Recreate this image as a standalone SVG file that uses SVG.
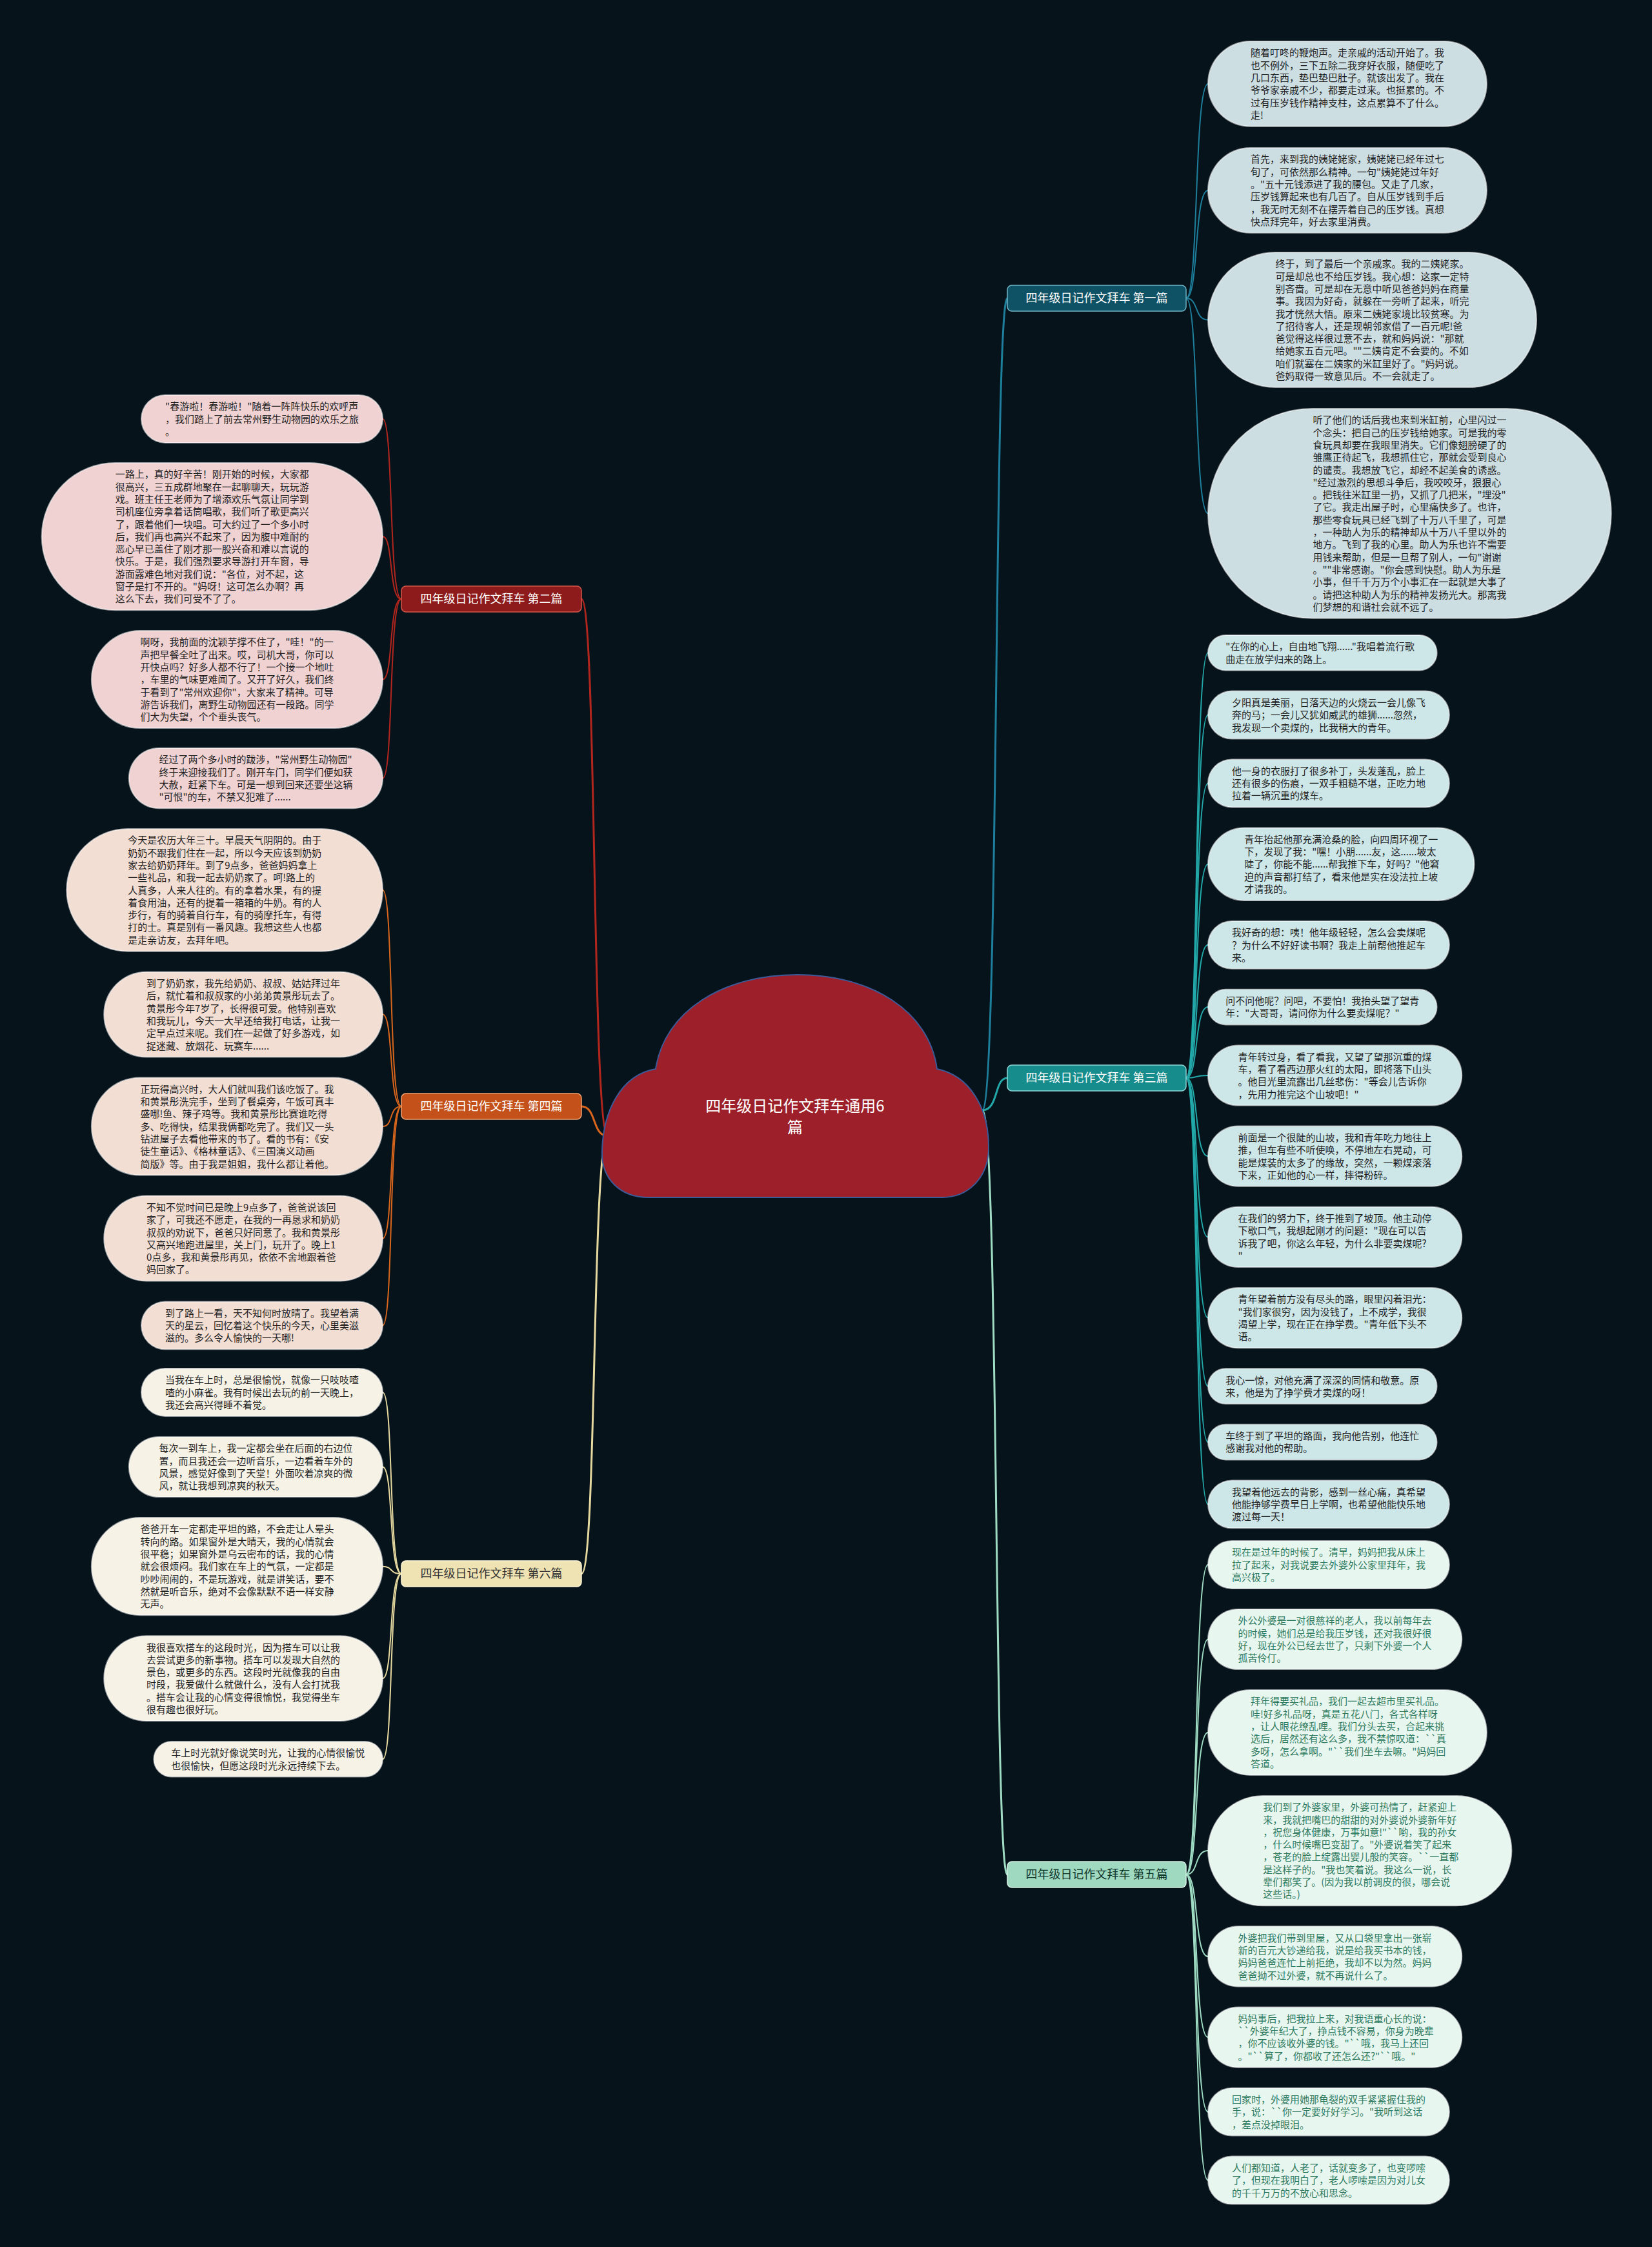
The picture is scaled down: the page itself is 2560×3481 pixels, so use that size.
<svg xmlns="http://www.w3.org/2000/svg" width="2560" height="3481" viewBox="0 0 2560 3481">
<style>
.t{font-family:"Noto Sans CJK SC","Noto Sans",sans-serif;font-size:15px;fill:#1f1f1f}
.g5{fill:#2e7a5e}
.b{font-family:"Noto Sans CJK SC","Noto Sans",sans-serif;font-size:18px;text-anchor:middle}
.leaf{stroke:#ffffff;stroke-opacity:.55;stroke-width:2}
.c{fill:none;stroke-width:2}
.m{fill:none;stroke-width:3}
.s1{stroke:#1d7f9c}.s3{stroke:#22a8a8}.s5{stroke:#9fdcc4}
.s2{stroke:#b3261e}.s4{stroke:#d9661c}.s6{stroke:#e6d9a0}
.f1{fill:#cddee3}.f3{fill:#cde6e8}.f5{fill:#e8f6f0}
.f2{fill:#f0d2d2}.f4{fill:#f3ded4}.f6{fill:#f6f2e6}
</style>
<rect width="2560" height="3481" fill="#07131b"/>

<g id="connectors">
<path class="m s1" d="M1522 1720 C1548 1720 1540 462 1561 462"/>
<path class="m s3" d="M1522 1720 C1548 1720 1540 1670 1561 1670"/>
<path class="m s5" d="M1522 1720 C1548 1720 1540 2904 1561 2904"/>
<path class="m s2" d="M942 1760 C917 1760 925 928 901 928"/>
<path class="m s4" d="M942 1760 C917 1760 925 1714 901 1714"/>
<path class="m s6" d="M942 1760 C917 1760 925 2438 901 2438"/>

<path class="c s1" d="M1838 462 C1858 462 1850 129.9 1872 129.9"/>
<path class="c s1" d="M1838 462 C1858 462 1850 294.9 1872 294.9"/>
<path class="c s1" d="M1838 462 C1858 462 1850 495.5 1872 495.5"/>
<path class="c s1" d="M1838 462 C1858 462 1850 795.4 1872 795.4"/>

<path class="c s3" d="M1838 1670 C1858 1670 1850 1011.3 1872 1011.3"/>
<path class="c s3" d="M1838 1670 C1858 1670 1850 1107.55 1872 1107.55"/>
<path class="c s3" d="M1838 1670 C1858 1670 1850 1213.45 1872 1213.45"/>
<path class="c s3" d="M1838 1670 C1858 1670 1850 1338.65 1872 1338.65"/>
<path class="c s3" d="M1838 1670 C1858 1670 1850 1463.85 1872 1463.85"/>
<path class="c s3" d="M1838 1670 C1858 1670 1850 1560.1 1872 1560.1"/>
<path class="c s3" d="M1838 1670 C1858 1670 1850 1666 1872 1666"/>
<path class="c s3" d="M1838 1670 C1858 1670 1850 1791.2 1872 1791.2"/>
<path class="c s3" d="M1838 1670 C1858 1670 1850 1916.4 1872 1916.4"/>
<path class="c s3" d="M1838 1670 C1858 1670 1850 2041.6 1872 2041.6"/>
<path class="c s3" d="M1838 1670 C1858 1670 1850 2147.5 1872 2147.5"/>
<path class="c s3" d="M1838 1670 C1858 1670 1850 2234.1 1872 2234.1"/>
<path class="c s3" d="M1838 1670 C1858 1670 1850 2330.35 1872 2330.35"/>

<path class="c s5" d="M1838 2904 C1858 2904 1850 2423.95 1872 2423.95"/>
<path class="c s5" d="M1838 2904 C1858 2904 1850 2539.5 1872 2539.5"/>
<path class="c s5" d="M1838 2904 C1858 2904 1850 2684 1872 2684"/>
<path class="c s5" d="M1838 2904 C1858 2904 1850 2867.1 1872 2867.1"/>
<path class="c s5" d="M1838 2904 C1858 2904 1850 3030.9 1872 3030.9"/>
<path class="c s5" d="M1838 2904 C1858 2904 1850 3156.1 1872 3156.1"/>
<path class="c s5" d="M1838 2904 C1858 2904 1850 3271.65 1872 3271.65"/>
<path class="c s5" d="M1838 2904 C1858 2904 1850 3377.55 1872 3377.55"/>

<path class="c s2" d="M622 928 C602 928 610 648.95 593 648.95"/>
<path class="c s2" d="M622 928 C602 928 610 831.15 593 831.15"/>
<path class="c s2" d="M622 928 C602 928 610 1052.55 593 1052.55"/>
<path class="c s2" d="M622 928 C602 928 610 1205.6 593 1205.6"/>

<path class="c s4" d="M622 1714 C602 1714 610 1378.85 593 1378.85"/>
<path class="c s4" d="M622 1714 C602 1714 610 1571.6 593 1571.6"/>
<path class="c s4" d="M622 1714 C602 1714 610 1745.05 593 1745.05"/>
<path class="c s4" d="M622 1714 C602 1714 610 1918.5 593 1918.5"/>
<path class="c s4" d="M622 1714 C602 1714 610 2053.35 593 2053.35"/>

<path class="c s6" d="M622 2438 C602 2438 610 2156.95 593 2156.95"/>
<path class="c s6" d="M622 2438 C602 2438 610 2272.5 593 2272.5"/>
<path class="c s6" d="M622 2438 C602 2438 610 2426.65 593 2426.65"/>
<path class="c s6" d="M622 2438 C602 2438 610 2600.1 593 2600.1"/>
<path class="c s6" d="M622 2438 C602 2438 610 2725.3 593 2725.3"/>
</g>

<g id="center">
<path d="M1005 1855 C960 1855 932 1825 933 1785 C934 1722 962 1665 1016 1656 C1030 1566 1120 1510 1236 1510 C1350 1510 1440 1566 1452 1656 C1502 1666 1533 1716 1532 1780 C1531 1825 1500 1855 1460 1855 Z" fill="#9c1f29" stroke="#3d5a98" stroke-width="2"/>
<text class="b" x="1232" y="1722" style="font-size:24px" fill="#ffffff">四年级日记作文拜车通用6</text>
<text class="b" x="1232" y="1755" style="font-size:24px" fill="#ffffff">篇</text>
</g>

<g id="branch1"><rect x="1561" y="442" width="277" height="40" rx="7" fill="#0f5266" stroke="#6fb5c6" stroke-width="1.5"/><text class="b" x="1699.5" y="468" fill="#ffffff">四年级日记作文拜车 第一篇</text></g>
<g id="branch3"><rect x="1561" y="1650" width="277" height="40" rx="7" fill="#178c8c" stroke="#8fd6d6" stroke-width="1.5"/><text class="b" x="1699.5" y="1676" fill="#ffffff">四年级日记作文拜车 第三篇</text></g>
<g id="branch5"><rect x="1561" y="2884" width="277" height="40" rx="7" fill="#9fd9c0" stroke="#d8f2e6" stroke-width="1.5"/><text class="b" x="1699.5" y="2910" fill="#10352a">四年级日记作文拜车 第五篇</text></g>
<g id="branch2"><rect x="622" y="908" width="279" height="40" rx="7" fill="#8e1b1b" stroke="#d6574a" stroke-width="1.5"/><text class="b" x="761.5" y="934" fill="#ffffff">四年级日记作文拜车 第二篇</text></g>
<g id="branch4"><rect x="622" y="1694" width="279" height="40" rx="7" fill="#c4511a" stroke="#f0a070" stroke-width="1.5"/><text class="b" x="761.5" y="1720" fill="#ffffff">四年级日记作文拜车 第四篇</text></g>
<g id="branch6"><rect x="622" y="2418" width="279" height="40" rx="7" fill="#efe3b4" stroke="#fff6d8" stroke-width="1.5"/><text class="b" x="761.5" y="2444" fill="#333333">四年级日记作文拜车 第六篇</text></g>

<g id="r1a"><rect class="leaf f1" x="1872" y="64" width="431.8" height="131.8" rx="65.9"/><text class="t" x="1937.9" y="87.35"><tspan x="1937.9">随着叮咚的鞭炮声。走亲戚的活动开始了。我</tspan><tspan x="1937.9" dy="19.3">也不例外，三下五除二我穿好衣服，随便吃了</tspan><tspan x="1937.9" dy="19.3">几口东西，垫巴垫巴肚子。就该出发了。我在</tspan><tspan x="1937.9" dy="19.3">爷爷家亲戚不少，都要走过来。也挺累的。不</tspan><tspan x="1937.9" dy="19.3">过有压岁钱作精神支柱，这点累算不了什么。</tspan><tspan x="1937.9" dy="19.3">走!</tspan></text></g>
<g id="r1b"><rect class="leaf f1" x="1872" y="229" width="431.8" height="131.8" rx="65.9"/><text class="t" x="1937.9" y="252.35"><tspan x="1937.9">首先，来到我的姨姥姥家，姨姥姥已经年过七</tspan><tspan x="1937.9" dy="19.3">旬了，可依然那么精神。一句"姨姥姥过年好</tspan><tspan x="1937.9" dy="19.3">。"五十元钱添进了我的腰包。又走了几家，</tspan><tspan x="1937.9" dy="19.3">压岁钱算起来也有几百了。自从压岁钱到手后</tspan><tspan x="1937.9" dy="19.3">，我无时无刻不在摆弄着自己的压岁钱。真想</tspan><tspan x="1937.9" dy="19.3">快点拜完年，好去家里消费。</tspan></text></g>
<g id="r1c"><rect class="leaf f1" x="1872" y="391" width="509" height="209" rx="104.5"/><text class="t" x="1976.5" y="414.35"><tspan x="1976.5">终于，到了最后一个亲戚家。我的二姨姥家。</tspan><tspan x="1976.5" dy="19.3">可是却总也不给压岁钱。我心想：这家一定特</tspan><tspan x="1976.5" dy="19.3">别吝啬。可是却在无意中听见爸爸妈妈在商量</tspan><tspan x="1976.5" dy="19.3">事。我因为好奇，就躲在一旁听了起来，听完</tspan><tspan x="1976.5" dy="19.3">我才恍然大悟。原来二姨姥家境比较贫寒。为</tspan><tspan x="1976.5" dy="19.3">了招待客人，还是现朝邻家借了一百元呢!爸</tspan><tspan x="1976.5" dy="19.3">爸觉得这样很过意不去，就和妈妈说："那就</tspan><tspan x="1976.5" dy="19.3">给她家五百元吧。""二姨肯定不会要的。不如</tspan><tspan x="1976.5" dy="19.3">咱们就塞在二姨家的米缸里好了。"妈妈说。</tspan><tspan x="1976.5" dy="19.3">爸妈取得一致意见后。不一会就走了。</tspan></text></g>
<g id="r1d"><rect class="leaf f1" x="1872" y="633" width="624.8" height="324.8" rx="162.4"/><text class="t" x="2034.4" y="656.35"><tspan x="2034.4">听了他们的话后我也来到米缸前，心里闪过一</tspan><tspan x="2034.4" dy="19.3">个念头：把自己的压岁钱给她家。可是我的零</tspan><tspan x="2034.4" dy="19.3">食玩具却要在我眼里消失。它们像翅膀硬了的</tspan><tspan x="2034.4" dy="19.3">雏鹰正待起飞，我想抓住它，那就会受到良心</tspan><tspan x="2034.4" dy="19.3">的谴责。我想放飞它，却经不起美食的诱惑。</tspan><tspan x="2034.4" dy="19.3">"经过激烈的思想斗争后，我咬咬牙，狠狠心</tspan><tspan x="2034.4" dy="19.3">。把钱往米缸里一扔，又抓了几把米，"埋没"</tspan><tspan x="2034.4" dy="19.3">了它。我走出屋子时，心里痛快多了。也许，</tspan><tspan x="2034.4" dy="19.3">那些零食玩具已经飞到了十万八千里了，可是</tspan><tspan x="2034.4" dy="19.3">，一种助人为乐的精神却从十万八千里以外的</tspan><tspan x="2034.4" dy="19.3">地方。飞到了我的心里。助人为乐也许不需要</tspan><tspan x="2034.4" dy="19.3">用钱来帮助，但是一旦帮了别人，一句"谢谢</tspan><tspan x="2034.4" dy="19.3">。""非常感谢。"你会感到快慰。助人为乐是</tspan><tspan x="2034.4" dy="19.3">小事，但千千万万个小事汇在一起就是大事了</tspan><tspan x="2034.4" dy="19.3">。请把这种助人为乐的精神发扬光大。那离我</tspan><tspan x="2034.4" dy="19.3">们梦想的和谐社会就不远了。</tspan></text></g>

<g id="r3a"><rect class="leaf f3" x="1872" y="984" width="354.6" height="54.6" rx="27.3"/><text class="t" x="1899.3" y="1007.35"><tspan x="1899.3">"在你的心上，自由地飞翔......"我唱着流行歌</tspan><tspan x="1899.3" dy="19.3">曲走在放学归来的路上。</tspan></text></g>
<g id="r3b"><rect class="leaf f3" x="1872" y="1070.6" width="373.9" height="73.9" rx="36.95"/><text class="t" x="1908.95" y="1093.95"><tspan x="1908.95">夕阳真是美丽，日落天边的火烧云一会儿像飞</tspan><tspan x="1908.95" dy="19.3">奔的马；一会儿又犹如威武的雄狮......忽然，</tspan><tspan x="1908.95" dy="19.3">我发现一个卖煤的，比我稍大的青年。</tspan></text></g>
<g id="r3c"><rect class="leaf f3" x="1872" y="1176.5" width="373.9" height="73.9" rx="36.95"/><text class="t" x="1908.95" y="1199.85"><tspan x="1908.95">他一身的衣服打了很多补丁，头发蓬乱，脸上</tspan><tspan x="1908.95" dy="19.3">还有很多的伤痕，一双手粗糙不堪，正吃力地</tspan><tspan x="1908.95" dy="19.3">拉着一辆沉重的煤车。</tspan></text></g>
<g id="r3d"><rect class="leaf f3" x="1872" y="1282.4" width="412.5" height="112.5" rx="56.25"/><text class="t" x="1928.25" y="1305.75"><tspan x="1928.25">青年抬起他那充满沧桑的脸，向四周环视了一</tspan><tspan x="1928.25" dy="19.3">下，发现了我："嘿！小朋......友，这......坡太</tspan><tspan x="1928.25" dy="19.3">陡了，你能不能......帮我推下车，好吗？"他窘</tspan><tspan x="1928.25" dy="19.3">迫的声音都打结了，看来他是实在没法拉上坡</tspan><tspan x="1928.25" dy="19.3">才请我的。</tspan></text></g>
<g id="r3e"><rect class="leaf f3" x="1872" y="1426.9" width="373.9" height="73.9" rx="36.95"/><text class="t" x="1908.95" y="1450.25"><tspan x="1908.95">我好奇的想：咦！他年级轻轻，怎么会卖煤呢</tspan><tspan x="1908.95" dy="19.3">？为什么不好好读书啊？我走上前帮他推起车</tspan><tspan x="1908.95" dy="19.3">来。</tspan></text></g>
<g id="r3f"><rect class="leaf f3" x="1872" y="1532.8" width="354.6" height="54.6" rx="27.3"/><text class="t" x="1899.3" y="1556.15"><tspan x="1899.3">问不问他呢？问吧，不要怕！我抬头望了望青</tspan><tspan x="1899.3" dy="19.3">年："大哥哥，请问你为什么要卖煤呢？"</tspan></text></g>
<g id="r3g"><rect class="leaf f3" x="1872" y="1619.4" width="393.2" height="93.2" rx="46.6"/><text class="t" x="1918.6" y="1642.75"><tspan x="1918.6">青年转过身，看了看我，又望了望那沉重的煤</tspan><tspan x="1918.6" dy="19.3">车，看了看西边那火红的太阳，即将落下山头</tspan><tspan x="1918.6" dy="19.3">。他目光里流露出几丝悲伤："等会儿告诉你</tspan><tspan x="1918.6" dy="19.3">，先用力推完这个山坡吧！"</tspan></text></g>
<g id="r3h"><rect class="leaf f3" x="1872" y="1744.6" width="393.2" height="93.2" rx="46.6"/><text class="t" x="1918.6" y="1767.95"><tspan x="1918.6">前面是一个很陡的山坡，我和青年吃力地往上</tspan><tspan x="1918.6" dy="19.3">推，但车有些不听使唤，不停地左右晃动，可</tspan><tspan x="1918.6" dy="19.3">能是煤装的太多了的缘故，突然，一颗煤滚落</tspan><tspan x="1918.6" dy="19.3">下来，正如他的心一样，摔得粉碎。</tspan></text></g>
<g id="r3i"><rect class="leaf f3" x="1872" y="1869.8" width="393.2" height="93.2" rx="46.6"/><text class="t" x="1918.6" y="1893.15"><tspan x="1918.6">在我们的努力下，终于推到了坡顶。他主动停</tspan><tspan x="1918.6" dy="19.3">下歇口气，我想起刚才的问题："现在可以告</tspan><tspan x="1918.6" dy="19.3">诉我了吧，你这么年轻，为什么非要卖煤呢?</tspan><tspan x="1918.6" dy="19.3">"</tspan></text></g>
<g id="r3j"><rect class="leaf f3" x="1872" y="1995" width="393.2" height="93.2" rx="46.6"/><text class="t" x="1918.6" y="2018.35"><tspan x="1918.6">青年望着前方没有尽头的路，眼里闪着泪光：</tspan><tspan x="1918.6" dy="19.3">"我们家很穷，因为没钱了，上不成学，我很</tspan><tspan x="1918.6" dy="19.3">渴望上学，现在正在挣学费。"青年低下头不</tspan><tspan x="1918.6" dy="19.3">语。</tspan></text></g>
<g id="r3k"><rect class="leaf f3" x="1872" y="2120.2" width="354.6" height="54.6" rx="27.3"/><text class="t" x="1899.3" y="2143.55"><tspan x="1899.3">我心一惊，对他充满了深深的同情和敬意。原</tspan><tspan x="1899.3" dy="19.3">来，他是为了挣学费才卖煤的呀！</tspan></text></g>
<g id="r3l"><rect class="leaf f3" x="1872" y="2206.8" width="354.6" height="54.6" rx="27.3"/><text class="t" x="1899.3" y="2230.15"><tspan x="1899.3">车终于到了平坦的路面，我向他告别，他连忙</tspan><tspan x="1899.3" dy="19.3">感谢我对他的帮助。</tspan></text></g>
<g id="r3m"><rect class="leaf f3" x="1872" y="2293.4" width="373.9" height="73.9" rx="36.95"/><text class="t" x="1908.95" y="2316.75"><tspan x="1908.95">我望着他远去的背影，感到一丝心痛，真希望</tspan><tspan x="1908.95" dy="19.3">他能挣够学费早日上学啊，也希望他能快乐地</tspan><tspan x="1908.95" dy="19.3">渡过每一天！</tspan></text></g>

<g id="r5a"><rect class="leaf f5" x="1872" y="2387" width="373.9" height="73.9" rx="36.95"/><text class="t g5" x="1908.95" y="2410.35"><tspan x="1908.95">现在是过年的时候了。清早，妈妈把我从床上</tspan><tspan x="1908.95" dy="19.3">拉了起来，对我说要去外婆外公家里拜年，我</tspan><tspan x="1908.95" dy="19.3">高兴极了。</tspan></text></g>
<g id="r5b"><rect class="leaf f5" x="1872" y="2492.9" width="393.2" height="93.2" rx="46.6"/><text class="t g5" x="1918.6" y="2516.25"><tspan x="1918.6">外公外婆是一对很慈祥的老人，我以前每年去</tspan><tspan x="1918.6" dy="19.3">的时候，她们总是给我压岁钱，还对我很好很</tspan><tspan x="1918.6" dy="19.3">好，现在外公已经去世了，只剩下外婆一个人</tspan><tspan x="1918.6" dy="19.3">孤苦伶仃。</tspan></text></g>
<g id="r5c"><rect class="leaf f5" x="1872" y="2618.1" width="431.8" height="131.8" rx="65.9"/><text class="t g5" x="1937.9" y="2641.45"><tspan x="1937.9">拜年得要买礼品，我们一起去超市里买礼品。</tspan><tspan x="1937.9" dy="19.3">哇!好多礼品呀，真是五花八门，各式各样呀</tspan><tspan x="1937.9" dy="19.3">，让人眼花缭乱哩。我们分头去买，合起来挑</tspan><tspan x="1937.9" dy="19.3">选后，居然还有这么多，我不禁惊叹道：``真</tspan><tspan x="1937.9" dy="19.3">多呀，怎么拿啊。"``我们坐车去嘛。"妈妈回</tspan><tspan x="1937.9" dy="19.3">答道。</tspan></text></g>
<g id="r5d"><rect class="leaf f5" x="1872" y="2781.9" width="470.4" height="170.4" rx="85.2"/><text class="t g5" x="1957.2" y="2805.25"><tspan x="1957.2">我们到了外婆家里，外婆可热情了，赶紧迎上</tspan><tspan x="1957.2" dy="19.3">来，我就把嘴巴的甜甜的对外婆说外婆新年好</tspan><tspan x="1957.2" dy="19.3">，祝您身体健康，万事如意!"``哟，我的孙女</tspan><tspan x="1957.2" dy="19.3">，什么时候嘴巴变甜了。"外婆说着笑了起来</tspan><tspan x="1957.2" dy="19.3">，苍老的脸上绽露出婴儿般的笑容。``一直都</tspan><tspan x="1957.2" dy="19.3">是这样子的。"我也笑着说。我这么一说，长</tspan><tspan x="1957.2" dy="19.3">辈们都笑了。(因为我以前调皮的很，哪会说</tspan><tspan x="1957.2" dy="19.3">这些话。)</tspan></text></g>
<g id="r5e"><rect class="leaf f5" x="1872" y="2984.3" width="393.2" height="93.2" rx="46.6"/><text class="t g5" x="1918.6" y="3007.65"><tspan x="1918.6">外婆把我们带到里屋，又从口袋里拿出一张崭</tspan><tspan x="1918.6" dy="19.3">新的百元大钞递给我，说是给我买书本的钱，</tspan><tspan x="1918.6" dy="19.3">妈妈爸爸连忙上前拒绝，我却不以为然。妈妈</tspan><tspan x="1918.6" dy="19.3">爸爸拗不过外婆，就不再说什么了。</tspan></text></g>
<g id="r5f"><rect class="leaf f5" x="1872" y="3109.5" width="393.2" height="93.2" rx="46.6"/><text class="t g5" x="1918.6" y="3132.85"><tspan x="1918.6">妈妈事后，把我拉上来，对我语重心长的说：</tspan><tspan x="1918.6" dy="19.3">``外婆年纪大了，挣点钱不容易，你身为晚辈</tspan><tspan x="1918.6" dy="19.3">，你不应该收外婆的钱。"``哦，我马上还回</tspan><tspan x="1918.6" dy="19.3">。"``算了，你都收了还怎么还?"``哦。"</tspan></text></g>
<g id="r5g"><rect class="leaf f5" x="1872" y="3234.7" width="373.9" height="73.9" rx="36.95"/><text class="t g5" x="1908.95" y="3258.05"><tspan x="1908.95">回家时，外婆用她那龟裂的双手紧紧握住我的</tspan><tspan x="1908.95" dy="19.3">手，说：``你一定要好好学习。"我听到这话</tspan><tspan x="1908.95" dy="19.3">，差点没掉眼泪。</tspan></text></g>
<g id="r5h"><rect class="leaf f5" x="1872" y="3340.6" width="373.9" height="73.9" rx="36.95"/><text class="t g5" x="1908.95" y="3363.95"><tspan x="1908.95">人们都知道，人老了，话就变多了，也变啰嗦</tspan><tspan x="1908.95" dy="19.3">了，但现在我明白了，老人啰嗦是因为对儿女</tspan><tspan x="1908.95" dy="19.3">的千千万万的不放心和思念。</tspan></text></g>

<g id="l2a"><rect class="leaf f2" x="219.1" y="612" width="373.9" height="73.9" rx="36.95"/><text class="t" x="256.05" y="635.35"><tspan x="256.05">"春游啦！春游啦！"随着一阵阵快乐的欢呼声</tspan><tspan x="256.05" dy="19.3">，我们踏上了前去常州野生动物园的欢乐之旅</tspan><tspan x="256.05" dy="19.3">。</tspan></text></g>
<g id="l2b"><rect class="leaf f2" x="64.7" y="717" width="528.3" height="228.3" rx="114.15"/><text class="t" x="178.85" y="740.35"><tspan x="178.85">一路上，真的好辛苦！刚开始的时候，大家都</tspan><tspan x="178.85" dy="19.3">很高兴，三五成群地聚在一起聊聊天，玩玩游</tspan><tspan x="178.85" dy="19.3">戏。班主任王老师为了增添欢乐气氛让同学到</tspan><tspan x="178.85" dy="19.3">司机座位旁拿着话筒唱歌，我们听了歌更高兴</tspan><tspan x="178.85" dy="19.3">了，跟着他们一块唱。可大约过了一个多小时</tspan><tspan x="178.85" dy="19.3">后，我们再也高兴不起来了，因为腹中难耐的</tspan><tspan x="178.85" dy="19.3">恶心早已盖住了刚才那一股兴奋和难以言说的</tspan><tspan x="178.85" dy="19.3">快乐。于是，我们强烈要求导游打开车窗，导</tspan><tspan x="178.85" dy="19.3">游面露难色地对我们说："各位，对不起，这</tspan><tspan x="178.85" dy="19.3">窗子是打不开的。"妈呀！这可怎么办啊？再</tspan><tspan x="178.85" dy="19.3">这么下去，我们可受不了了。</tspan></text></g>
<g id="l2c"><rect class="leaf f2" x="141.9" y="977" width="451.1" height="151.1" rx="75.55"/><text class="t" x="217.45" y="1000.35"><tspan x="217.45">啊呀，我前面的沈颖芋撑不住了，"哇！"的一</tspan><tspan x="217.45" dy="19.3">声把早餐全吐了出来。哎，司机大哥，你可以</tspan><tspan x="217.45" dy="19.3">开快点吗？好多人都不行了！一个接一个地吐</tspan><tspan x="217.45" dy="19.3">，车里的气味更难闻了。又开了好久，我们终</tspan><tspan x="217.45" dy="19.3">于看到了"常州欢迎你"，大家来了精神。可导</tspan><tspan x="217.45" dy="19.3">游告诉我们，离野生动物园还有一段路。同学</tspan><tspan x="217.45" dy="19.3">们大为失望，个个垂头丧气。</tspan></text></g>
<g id="l2d"><rect class="leaf f2" x="199.8" y="1159" width="393.2" height="93.2" rx="46.6"/><text class="t" x="246.4" y="1182.35"><tspan x="246.4">经过了两个多小时的跋涉，"常州野生动物园"</tspan><tspan x="246.4" dy="19.3">终于来迎接我们了。刚开车门，同学们便如获</tspan><tspan x="246.4" dy="19.3">大赦，赶紧下车。可是一想到回来还要坐这辆</tspan><tspan x="246.4" dy="19.3">"可恨"的车，不禁又犯难了......</tspan></text></g>

<g id="l4a"><rect class="leaf f4" x="103.3" y="1284" width="489.7" height="189.7" rx="94.85"/><text class="t" x="198.15" y="1307.35"><tspan x="198.15">今天是农历大年三十。早晨天气阴阴的。由于</tspan><tspan x="198.15" dy="19.3">奶奶不跟我们住在一起，所以今天应该到奶奶</tspan><tspan x="198.15" dy="19.3">家去给奶奶拜年。到了9点多，爸爸妈妈拿上</tspan><tspan x="198.15" dy="19.3">一些礼品，和我一起去奶奶家了。呵!路上的</tspan><tspan x="198.15" dy="19.3">人真多，人来人往的。有的拿着水果，有的提</tspan><tspan x="198.15" dy="19.3">着食用油，还有的提着一箱箱的牛奶。有的人</tspan><tspan x="198.15" dy="19.3">步行，有的骑着自行车，有的骑摩托车，有得</tspan><tspan x="198.15" dy="19.3">打的士。真是别有一番风趣。我想这些人也都</tspan><tspan x="198.15" dy="19.3">是走亲访友，去拜年吧。</tspan></text></g>
<g id="l4b"><rect class="leaf f4" x="161.2" y="1505.7" width="431.8" height="131.8" rx="65.9"/><text class="t" x="227.1" y="1529.05"><tspan x="227.1">到了奶奶家，我先给奶奶、叔叔、姑姑拜过年</tspan><tspan x="227.1" dy="19.3">后，就忙着和叔叔家的小弟弟黄景彤玩去了。</tspan><tspan x="227.1" dy="19.3">黄景彤今年7岁了，长得很可爱。他特别喜欢</tspan><tspan x="227.1" dy="19.3">和我玩儿，今天一大早还给我打电话，让我一</tspan><tspan x="227.1" dy="19.3">定早点过来呢。我们在一起做了好多游戏，如</tspan><tspan x="227.1" dy="19.3">捉迷藏、放烟花、玩赛车......</tspan></text></g>
<g id="l4c"><rect class="leaf f4" x="141.9" y="1669.5" width="451.1" height="151.1" rx="75.55"/><text class="t" x="217.45" y="1692.85"><tspan x="217.45">正玩得高兴时，大人们就叫我们该吃饭了。我</tspan><tspan x="217.45" dy="19.3">和黄景彤洗完手，坐到了餐桌旁，午饭可真丰</tspan><tspan x="217.45" dy="19.3">盛哪!鱼、辣子鸡等。我和黄景彤比赛谁吃得</tspan><tspan x="217.45" dy="19.3">多、吃得快，结果我俩都吃完了。我们又一头</tspan><tspan x="217.45" dy="19.3">钻进屋子去看他带来的书了。看的书有：《安</tspan><tspan x="217.45" dy="19.3">徒生童话》、《格林童话》、《三国演义动画</tspan><tspan x="217.45" dy="19.3">简版》等。由于我是姐姐，我什么都让着他。</tspan></text></g>
<g id="l4d"><rect class="leaf f4" x="161.2" y="1852.6" width="431.8" height="131.8" rx="65.9"/><text class="t" x="227.1" y="1875.95"><tspan x="227.1">不知不觉时间已是晚上9点多了，爸爸说该回</tspan><tspan x="227.1" dy="19.3">家了，可我还不愿走，在我的一再恳求和奶奶</tspan><tspan x="227.1" dy="19.3">叔叔的劝说下，爸爸只好同意了。我和黄景彤</tspan><tspan x="227.1" dy="19.3">又高兴地跑进屋里，关上门，玩开了。晚上1</tspan><tspan x="227.1" dy="19.3">0点多，我和黄景彤再见，依依不舍地跟着爸</tspan><tspan x="227.1" dy="19.3">妈回家了。</tspan></text></g>
<g id="l4e"><rect class="leaf f4" x="219.1" y="2016.4" width="373.9" height="73.9" rx="36.95"/><text class="t" x="256.05" y="2039.75"><tspan x="256.05">到了路上一看，天不知何时放晴了。我望着满</tspan><tspan x="256.05" dy="19.3">天的星云，回忆着这个快乐的今天，心里美滋</tspan><tspan x="256.05" dy="19.3">滋的。多么令人愉快的一天哪!</tspan></text></g>

<g id="l6a"><rect class="leaf f6" x="219.1" y="2120" width="373.9" height="73.9" rx="36.95"/><text class="t" x="256.05" y="2143.35"><tspan x="256.05">当我在车上时，总是很愉悦，就像一只吱吱喳</tspan><tspan x="256.05" dy="19.3">喳的小麻雀。我有时候出去玩的前一天晚上，</tspan><tspan x="256.05" dy="19.3">我还会高兴得睡不着觉。</tspan></text></g>
<g id="l6b"><rect class="leaf f6" x="199.8" y="2225.9" width="393.2" height="93.2" rx="46.6"/><text class="t" x="246.4" y="2249.25"><tspan x="246.4">每次一到车上，我一定都会坐在后面的右边位</tspan><tspan x="246.4" dy="19.3">置，而且我还会一边听音乐，一边看着车外的</tspan><tspan x="246.4" dy="19.3">风景，感觉好像到了天堂！外面吹着凉爽的微</tspan><tspan x="246.4" dy="19.3">风，就让我想到凉爽的秋天。</tspan></text></g>
<g id="l6c"><rect class="leaf f6" x="141.9" y="2351.1" width="451.1" height="151.1" rx="75.55"/><text class="t" x="217.45" y="2374.45"><tspan x="217.45">爸爸开车一定都走平坦的路，不会走让人晕头</tspan><tspan x="217.45" dy="19.3">转向的路。如果窗外是大晴天，我的心情就会</tspan><tspan x="217.45" dy="19.3">很平稳；如果窗外是乌云密布的话，我的心情</tspan><tspan x="217.45" dy="19.3">就会很烦闷。我们家在车上的气氛，一定都是</tspan><tspan x="217.45" dy="19.3">吵吵闹闹的，不是玩游戏，就是讲笑话，要不</tspan><tspan x="217.45" dy="19.3">然就是听音乐，绝对不会像默默不语一样安静</tspan><tspan x="217.45" dy="19.3">无声。</tspan></text></g>
<g id="l6d"><rect class="leaf f6" x="161.2" y="2534.2" width="431.8" height="131.8" rx="65.9"/><text class="t" x="227.1" y="2557.55"><tspan x="227.1">我很喜欢搭车的这段时光，因为搭车可以让我</tspan><tspan x="227.1" dy="19.3">去尝试更多的新事物。搭车可以发现大自然的</tspan><tspan x="227.1" dy="19.3">景色，或更多的东西。这段时光就像我的自由</tspan><tspan x="227.1" dy="19.3">时段，我爱做什么就做什么，没有人会打扰我</tspan><tspan x="227.1" dy="19.3">。搭车会让我的心情变得很愉悦，我觉得坐车</tspan><tspan x="227.1" dy="19.3">很有趣也很好玩。</tspan></text></g>
<g id="l6e"><rect class="leaf f6" x="238.4" y="2698" width="354.6" height="54.6" rx="27.3"/><text class="t" x="265.3" y="2721.35"><tspan x="265.3">车上时光就好像说笑时光，让我的心情很愉悦</tspan><tspan x="265.3" dy="19.3">也很愉快，但愿这段时光永远持续下去。</tspan></text></g>
</svg>
